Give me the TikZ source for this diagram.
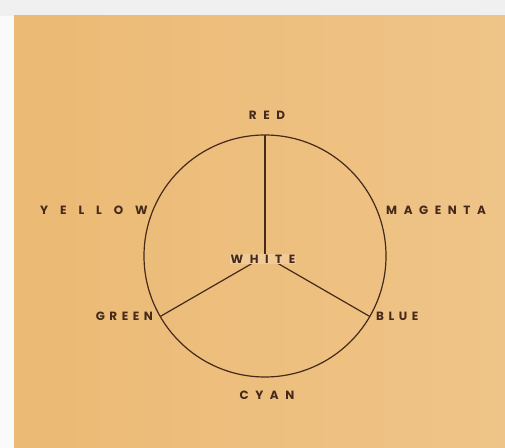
\documentclass[tikz,border=0pt]{standalone}
\usepackage{fontspec}
\usepackage{tikz}
\usetikzlibrary{calc}
\newfontfamily\wheelfont{Poppins}[LetterSpace=55]
\newfontfamily\tightfont{Poppins}[LetterSpace=38]
\newfontfamily\widefont{Poppins}[LetterSpace=100]
\definecolor{paper}{HTML}{EBBA74}
\definecolor{paperlight}{HTML}{EFC488}
\definecolor{ink}{HTML}{45291A}

\begin{document}
\begin{tikzpicture}[x=1bp,y=1bp]
\tikzset{
  wheel/.style={ink,line width=1.2bp},
  colname/.style={text=ink,inner sep=1bp,font=\wheelfont\bfseries\fontsize{12}{14}\selectfont},
}
\useasboundingbox (0,0) rectangle (505,448);
% sheet and margins
\fill[gray!12] (0,432) rectangle (505,448);
\fill[white!96!gray] (0,0) rectangle (14,432);
\shade[left color=paper,right color=paperlight] (14,0) rectangle (505,432);
% colour wheel
\coordinate (c) at (265,192);
\draw[wheel] (c) circle[radius=121];
\coordinate (red) at ($(c)+(90:121)$);
\coordinate (green) at ($(c)+(210:121)$);
\coordinate (blue) at ($(c)+(330:121)$);
\draw[wheel] (c) -- (red);
\draw[wheel] (c) -- (green);
\draw[wheel] (c) -- (blue);
\node[colname] (lred) at (267,333) {RED};
\node[colname,anchor=east,font=\widefont\bfseries\fontsize{12}{14}\selectfont] (lyellow) at (149,238) {YELLOW};
\node[colname,anchor=west] (lmagenta) at (385,238) {MAGENTA};
\node[colname,anchor=east,font=\tightfont\bfseries\fontsize{12}{14}\selectfont] (lgreen) at (154,132) {GREEN};
\node[colname,anchor=west,font=\tightfont\bfseries\fontsize{12}{14}\selectfont] (lblue) at (375,132) {BLUE};
\node[colname] (lcyan) at (267,53) {CYAN};
\node[colname,fill=paper!75!white] (lwhite) at (263,189) {WHITE};
\end{tikzpicture}
\end{document}
